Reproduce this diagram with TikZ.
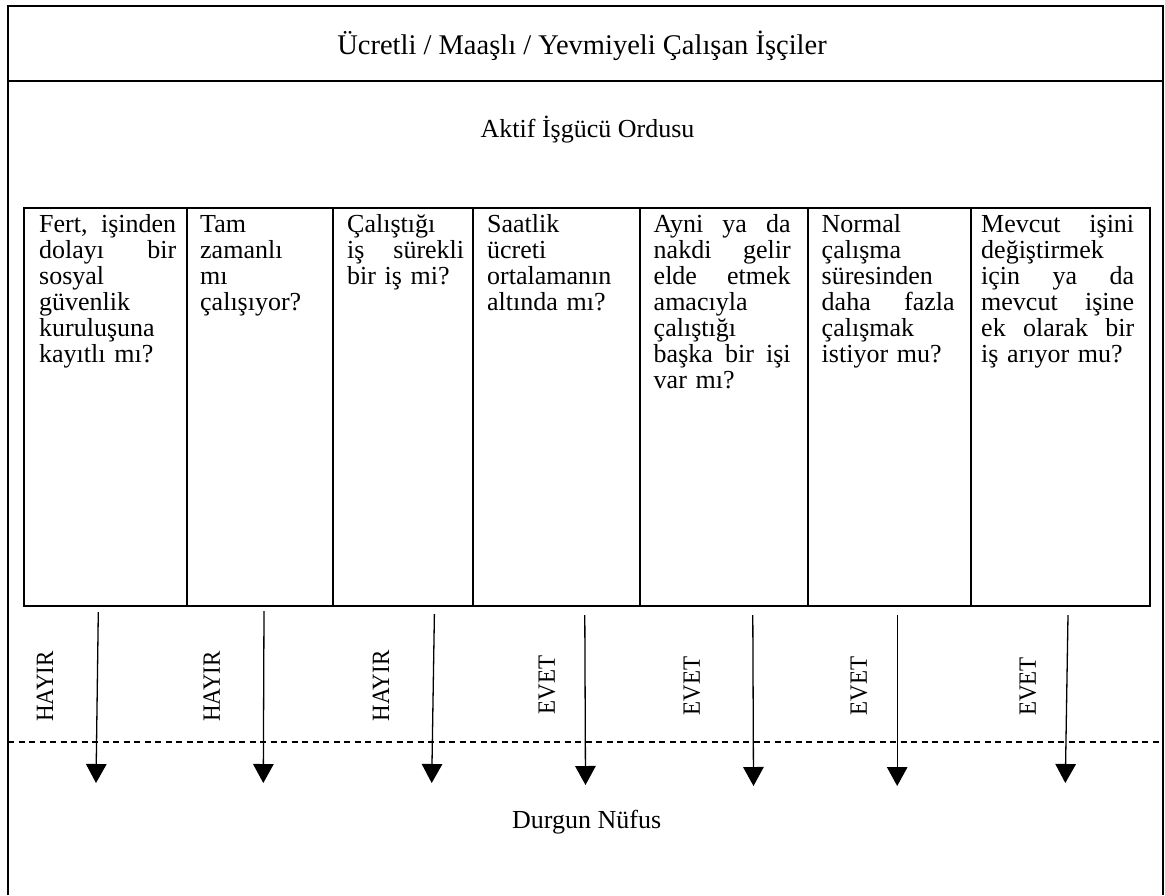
\documentclass[tikz,border=0pt]{standalone}
\usepackage{fontspec}
\setmainfont{Liberation Serif}
\usetikzlibrary{arrows.meta}
\newcommand\jl[2]{\leavevmode\hbox to #1{#2}}
\begin{document}
\begin{tikzpicture}[x=1pt,y=-1pt,
  frame/.style={line width=2pt},
  cell/.style={draw, line width=2pt, rectangle, inner sep=0pt, outer sep=0pt, anchor=north west, minimum height=398.5pt},
  coltext/.style={anchor=base west, inner sep=0pt, align=left, font=\fontsize{26}{26}\selectfont},
  title/.style={anchor=base, inner sep=0pt, font=\fontsize{26}{30}\selectfont},
  ans/.style={rotate=90, inner sep=0pt, font=\fontsize{23}{23}\selectfont},
  flow/.style={line width=1.3pt, -{Triangle[width=20.5pt,length=19pt]}},
  sep/.style={line width=1.6pt, dash pattern=on 6pt off 4.5pt}]
\useasboundingbox (0,0) rectangle (1165,895);
\fill[white] (0,0) rectangle (1165,895);

% outer frame
\draw[frame] (8,895) -- (8,6) -- (1162.5,6) -- (1162.5,895);
\draw[frame] (8,81) -- (1162.5,81);

% titles
\node[title, font=\fontsize{28.5}{30}\selectfont] (ttl) at (582,54) {Ücretli / Maaşlı / Yevmiyeli Çalışan İşçiler};
\node[title] (akt) at (587.5,137.3) {Aktif İşgücü Ordusu};
\node[title] (dur) at (586.7,828.3) {Durgun Nüfus};

% table cells
\node[cell, minimum width=163pt]   (c1) at (23.5,207.5) {};
\node[cell, minimum width=146.5pt] (c2) at (186.5,207.5) {};
\node[cell, minimum width=140pt]   (c3) at (333,207.5) {};
\node[cell, minimum width=167pt]   (c4) at (473,207.5) {};
\node[cell, minimum width=168pt]   (c5) at (640,207.5) {};
\node[cell, minimum width=163pt]   (c6) at (808,207.5) {};
\node[cell, minimum width=178.5pt] (c7) at (971,207.5) {};

% cell texts
\node[coltext, text width=140pt] (t1) at (39,232) {\jl{137pt}{Fert,\hfill işinden}\\ \jl{137pt}{dolayı\hfill bir}\\ sosyal\\ güvenlik\\ kuruluşuna\\ kayıtlı mı?};
\node[coltext, text width=125pt] (t2) at (200,232) {Tam\\ zamanlı\\ mı\\ çalışıyor?};
\node[coltext, text width=120pt] (t3) at (347,232) {Çalıştığı\\ \jl{117pt}{iş\hfill sürekli}\\ bir iş mi?};
\node[coltext, text width=145pt] (t4) at (487,232) {Saatlik\\ ücreti\\ ortalamanın\\ altında mı?};
\node[coltext, text width=140pt] (t5) at (653.5,232) {\jl{137pt}{Ayni\hfill ya\hfill da}\\ \jl{137pt}{nakdi\hfill gelir}\\ \jl{137pt}{elde\hfill etmek}\\ amacıyla\\ çalıştığı\\ \jl{137pt}{başka\hfill bir\hfill işi}\\ var mı?};
\node[coltext, text width=136pt] (t6) at (821.5,232) {Normal\\ çalışma\\ süresinden\\ \jl{133pt}{daha\hfill fazla}\\ çalışmak\\ istiyor mu?};
\node[coltext, text width=157pt] (t7) at (981,232) {\jl{153pt}{Mevcut\hfill işini}\\ değiştirmek\\ \jl{153pt}{için\hfill ya\hfill da}\\ \jl{153pt}{mevcut\hfill işine}\\ \jl{153pt}{ek\hfill olarak\hfill bir}\\ iş arıyor mu?};

% dashed boundary
\coordinate (dl) at (8,741.7);
\coordinate (dr) at (1163,741.7);
\draw[sep] (dl) -- (dr);

% answer labels
\node[ans] (l1) at (45,686.5) {\scalebox{1}[1.08]{HAYIR}};
\node[ans] (l2) at (211.7,686.5) {\scalebox{1}[1.08]{HAYIR}};
\node[ans] (l3) at (380.8,686) {\scalebox{1}[1.08]{HAYIR}};
\node[ans] (l4) at (547,685) {\scalebox{1}[1.08]{EVET}};
\node[ans] (l5) at (692,686) {\scalebox{1}[1.08]{EVET}};
\node[ans] (l6) at (859,686) {\scalebox{1}[1.08]{EVET}};
\node[ans] (l7) at (1028,686.5) {\scalebox{1}[1.08]{EVET}};

% arrows
\coordinate (a1s) at (98.3,612);  \coordinate (a1e) at (96,783);
\coordinate (a2s) at (264,611);   \coordinate (a2e) at (263.3,783);
\coordinate (a3s) at (434.4,614); \coordinate (a3e) at (431.7,783);
\coordinate (a4s) at (584.8,615); \coordinate (a4e) at (585.5,785);
\coordinate (a5s) at (752.8,615); \coordinate (a5e) at (753.5,786);
\coordinate (a6s) at (897.2,615); \coordinate (a6e) at (897.2,786);
\coordinate (a7s) at (1068,615);  \coordinate (a7e) at (1065.3,783);
\draw[flow] (a1s) -- (a1e);
\draw[flow] (a2s) -- (a2e);
\draw[flow] (a3s) -- (a3e);
\draw[flow] (a4s) -- (a4e);
\draw[flow] (a5s) -- (a5e);
\draw[flow] (a6s) -- (a6e);
\draw[flow] (a7s) -- (a7e);
\end{tikzpicture}
\end{document}
